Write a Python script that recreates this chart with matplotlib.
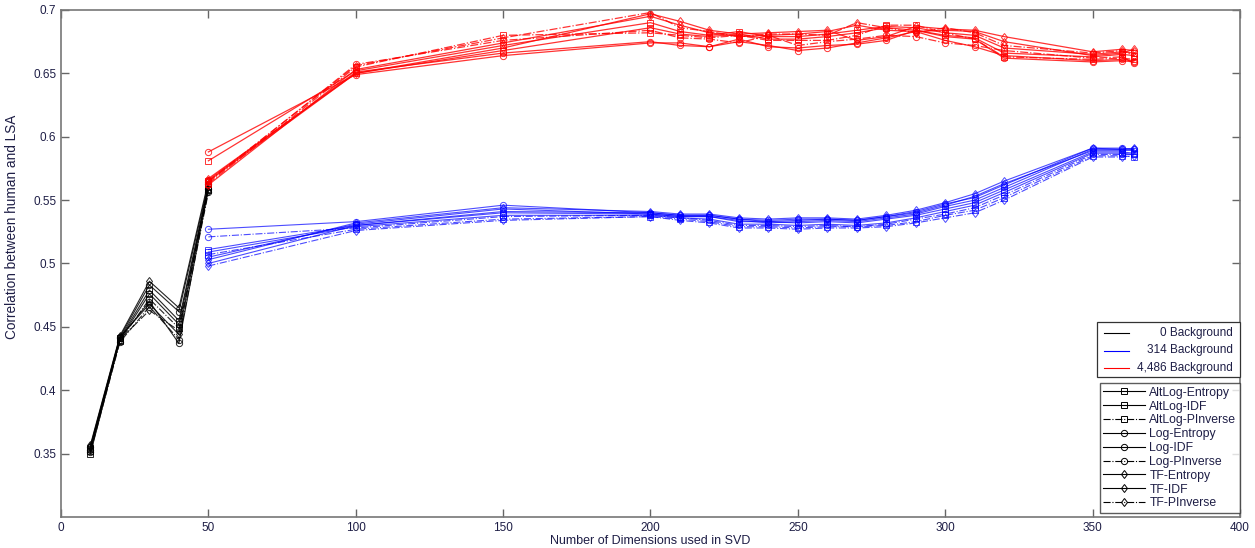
import numpy as np
import matplotlib
matplotlib.use('Agg')
import matplotlib.pyplot as plt
from matplotlib.lines import Line2D
from matplotlib.patches import Rectangle

plt.rcParams['font.family'] = ['Liberation Sans', 'DejaVu Sans']

# weighting schemes (same order in every background)
schemes = ['AltLog-Entropy', 'AltLog-IDF', 'AltLog-PInverse',
           'Log-Entropy', 'Log-IDF', 'Log-PInverse',
           'TF-Entropy', 'TF-IDF', 'TF-PInverse']
backgrounds = ['0 Background', '314 Background', '4,486 Background']

# dimensions
x_small = [10, 20, 30, 40, 50]
x_full = [50, 100, 150, 200, 210, 220, 230, 240, 250, 260, 270, 280, 290,
          300, 310, 320, 350, 360, 364]

# 0 background (black)
bg0 = [
    [0.352, 0.441, 0.479, 0.455, 0.561],
    [0.350, 0.440, 0.476, 0.452, 0.560],
    [0.354, 0.439, 0.472, 0.449, 0.558],
    [0.355, 0.442, 0.483, 0.462, 0.563],
    [0.353, 0.441, 0.470, 0.437, 0.559],
    [0.351, 0.438, 0.466, 0.440, 0.556],
    [0.357, 0.443, 0.486, 0.465, 0.565],
    [0.356, 0.442, 0.468, 0.444, 0.562],
    [0.355, 0.440, 0.463, 0.447, 0.557],
]

# 314 background (blue)
bg314 = [
    [0.511, 0.530, 0.540, 0.539, 0.537, 0.537, 0.533, 0.533, 0.532, 0.533, 0.532, 0.535, 0.538, 0.543, 0.548, 0.558, 0.588, 0.588, 0.587],
    [0.509, 0.529, 0.538, 0.538, 0.536, 0.535, 0.531, 0.531, 0.530, 0.531, 0.530, 0.532, 0.536, 0.541, 0.546, 0.556, 0.587, 0.587, 0.586],
    [0.507, 0.527, 0.535, 0.537, 0.535, 0.533, 0.529, 0.529, 0.528, 0.529, 0.529, 0.530, 0.533, 0.538, 0.542, 0.552, 0.585, 0.585, 0.584],
    [0.527, 0.533, 0.546, 0.540, 0.538, 0.538, 0.535, 0.534, 0.535, 0.535, 0.534, 0.537, 0.541, 0.547, 0.552, 0.562, 0.591, 0.591, 0.590],
    [0.505, 0.531, 0.543, 0.539, 0.537, 0.537, 0.534, 0.532, 0.533, 0.534, 0.533, 0.536, 0.539, 0.545, 0.550, 0.560, 0.590, 0.590, 0.589],
    [0.521, 0.528, 0.537, 0.538, 0.536, 0.534, 0.530, 0.530, 0.529, 0.530, 0.529, 0.531, 0.535, 0.539, 0.544, 0.554, 0.586, 0.586, 0.586],
    [0.503, 0.532, 0.544, 0.541, 0.539, 0.539, 0.536, 0.535, 0.536, 0.536, 0.535, 0.538, 0.542, 0.548, 0.555, 0.565, 0.591, 0.590, 0.591],
    [0.500, 0.530, 0.541, 0.540, 0.538, 0.538, 0.535, 0.533, 0.534, 0.535, 0.534, 0.537, 0.540, 0.546, 0.553, 0.563, 0.589, 0.589, 0.590],
    [0.498, 0.526, 0.534, 0.537, 0.534, 0.532, 0.528, 0.528, 0.527, 0.528, 0.528, 0.529, 0.532, 0.536, 0.540, 0.550, 0.584, 0.584, 0.585],
]

# 4,486 background (red)
bg4486 = [
    [0.581, 0.652, 0.672, 0.690, 0.683, 0.680, 0.683, 0.679, 0.679, 0.681, 0.684, 0.687, 0.686, 0.682, 0.680, 0.670, 0.665, 0.667, 0.666],
    [0.565, 0.650, 0.668, 0.686, 0.681, 0.679, 0.681, 0.677, 0.677, 0.679, 0.682, 0.686, 0.684, 0.680, 0.678, 0.666, 0.663, 0.665, 0.664],
    [0.563, 0.655, 0.680, 0.682, 0.680, 0.678, 0.680, 0.676, 0.676, 0.676, 0.680, 0.688, 0.688, 0.682, 0.677, 0.663, 0.661, 0.662, 0.661],
    [0.588, 0.649, 0.664, 0.674, 0.674, 0.671, 0.677, 0.671, 0.670, 0.672, 0.673, 0.676, 0.684, 0.679, 0.677, 0.662, 0.659, 0.660, 0.659],
    [0.566, 0.651, 0.666, 0.675, 0.672, 0.671, 0.675, 0.672, 0.668, 0.670, 0.674, 0.678, 0.683, 0.676, 0.671, 0.664, 0.660, 0.661, 0.660],
    [0.564, 0.657, 0.676, 0.684, 0.678, 0.677, 0.674, 0.680, 0.672, 0.675, 0.677, 0.680, 0.679, 0.674, 0.672, 0.668, 0.662, 0.663, 0.658],
    [0.567, 0.650, 0.670, 0.697, 0.691, 0.684, 0.681, 0.682, 0.683, 0.684, 0.676, 0.679, 0.687, 0.685, 0.684, 0.679, 0.667, 0.669, 0.668],
    [0.562, 0.653, 0.674, 0.695, 0.688, 0.682, 0.679, 0.680, 0.681, 0.683, 0.688, 0.684, 0.683, 0.684, 0.683, 0.675, 0.664, 0.666, 0.669],
    [0.565, 0.656, 0.678, 0.698, 0.686, 0.683, 0.679, 0.681, 0.681, 0.680, 0.690, 0.686, 0.682, 0.686, 0.682, 0.672, 0.666, 0.668, 0.664],
]

markers = ['s', 's', 's', 'o', 'o', 'o', 'd', 'd', 'd']
styles = ['-', '-', '-.', '-', '-', '-.', '-', '-', '-.']
colors = ['black', '#0000ff', '#ff0000']
txt_col = '#1e1e46'

W, H = 1255, 548
fig = plt.figure(figsize=(W / 100, H / 100), dpi=100)
ax = fig.add_axes([0.0486, 0.0566, 0.9394, 0.9252])

for i in range(len(schemes)):
    ax.plot(x_small, bg0[i], color=colors[0], ls=styles[i], marker=markers[i],
            ms=4.5, mew=0.7, lw=0.8, fillstyle='none', alpha=0.85)
for i in range(len(schemes)):
    ax.plot(x_full, bg314[i], color=colors[1], ls=styles[i], marker=markers[i],
            ms=4.5, mew=0.7, lw=0.8, fillstyle='none', alpha=0.7)
for i in range(len(schemes)):
    ax.plot(x_full, bg4486[i], color=colors[2], ls=styles[i], marker=markers[i],
            ms=4.5, mew=0.7, lw=0.9, fillstyle='none', alpha=0.8)

ax.set_xlim(0, 400)
ax.set_ylim(0.3, 0.7)
ax.set_xticks(np.arange(0, 401, 50))
ax.set_yticks([0.35, 0.4, 0.45, 0.5, 0.55, 0.6, 0.65, 0.7])
ax.set_yticklabels(['0.35', '0.4', '0.45', '0.5', '0.55', '0.6', '0.65', '0.7'])
ax.tick_params(direction='in', top=True, right=True, length=6, width=1,
               color='#666666', labelsize=8.5, labelcolor=txt_col)
for s in ax.spines.values():
    s.set_color('#777777')
    s.set_linewidth(1.2)

ax.set_xlabel('Number of Dimensions used in SVD', fontsize=9, color=txt_col, labelpad=1)
ax.set_ylabel('Correlation between human and LSA', fontsize=9.8, color=txt_col)
ax.yaxis.set_label_coords(-0.036, 0.573)

# background legend: handles on the left, labels right-aligned (MATLAB style)
def px(x, y):
    return x / W, 1 - y / H

x0, y0 = px(1097, 377)
fig.add_artist(Rectangle((x0, y0), 143 / W, 55 / H, transform=fig.transFigure,
                         facecolor='white', edgecolor='#333333', lw=0.9, zorder=5))
for k, (c, lab) in enumerate(zip(colors, backgrounds)):
    yy = 333 + k * 17.5
    fig.add_artist(Line2D([px(1104, 0)[0], px(1129, 0)[0]], [px(0, yy)[1]] * 2,
                          transform=fig.transFigure, color=c, lw=0.8, zorder=6))
    fig.text(px(1233, 0)[0], px(0, yy)[1], lab, ha='right', va='center',
             fontsize=8.5, color=txt_col, zorder=6)

sc_handles = [Line2D([], [], color='black', ls=styles[i], marker=markers[i],
                     ms=4.5, mew=0.7, lw=0.8, fillstyle='none')
              for i in range(len(schemes))]
leg2 = ax.legend(sc_handles, schemes, loc='upper right',
                 bbox_to_anchor=(0.988, 0.301), bbox_transform=fig.transFigure,
                 fontsize=8.8, frameon=True, fancybox=False, edgecolor='#333333',
                 labelspacing=0.15, handlelength=3.4, handletextpad=0.35,
                 borderpad=0.3, borderaxespad=0)
for t in leg2.get_texts():
    t.set_color(txt_col)

fig.savefig('out.png', dpi=100)
